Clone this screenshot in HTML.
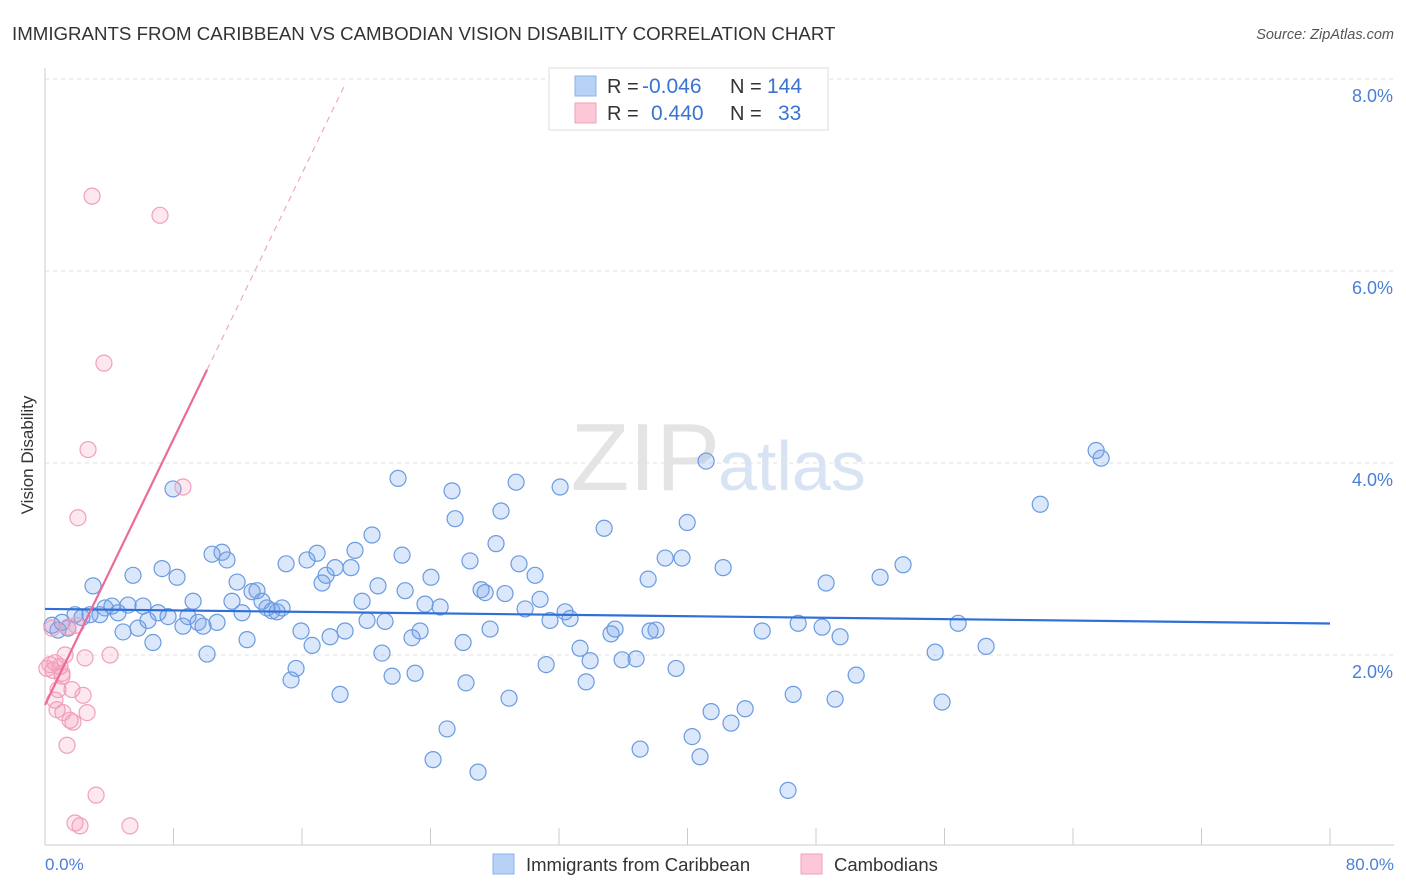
<!DOCTYPE html>
<html><head><meta charset="utf-8"><style>
body{margin:0;background:#fff;font-family:"Liberation Sans",sans-serif;}
#wrap{position:relative;width:1406px;height:892px;overflow:hidden;}
svg text{font-family:"Liberation Sans",sans-serif;}
</style></head><body>
<div id="wrap">
<svg id="chart" width="1406" height="892">
<text x="12" y="40" font-size="18.7" fill="#333">IMMIGRANTS FROM CARIBBEAN VS CAMBODIAN VISION DISABILITY CORRELATION CHART</text>
<text x="1394" y="39" font-size="14.5" fill="#555" font-style="italic" text-anchor="end">Source: ZipAtlas.com</text>
<text x="720" y="490" font-size="96" fill="#e4e4e4" text-anchor="end" font-family="Liberation Serif">ZIP</text>
<text x="718" y="490" font-size="70" fill="#d8e4f4">atlas</text>
<g id="grid"></g>
<g id="axes"></g>
<g id="pts"></g>
<g id="trends"></g>
<text x="33" y="455" font-size="17" fill="#333" text-anchor="middle" transform="rotate(-90 33 455)">Vision Disability</text>
<text x="45" y="870" font-size="17" fill="#4a7fd6">0.0%</text>
<text x="1394" y="870" font-size="17" fill="#4a7fd6" text-anchor="end">80.0%</text>
<g>
<rect x="549" y="68" width="279" height="62" fill="#fff" stroke="#ddd"/>
<rect x="575" y="76" width="21" height="20" fill="#b7d2f5" stroke="#8ab3ea"/>
<rect x="575" y="103" width="21" height="20" fill="#fcc8d8" stroke="#f0a0bb"/>
<text x="607" y="93" font-size="20" fill="#333">R = </text><text x="642" y="93" font-size="21" fill="#3b73d1">-0.046</text>
<text x="730" y="93" font-size="20" fill="#333">N = </text><text x="767" y="93" font-size="21" fill="#3b73d1">144</text>
<text x="607" y="120" font-size="20" fill="#333">R = </text><text x="651" y="120" font-size="21" fill="#3b73d1">0.440</text>
<text x="730" y="120" font-size="20" fill="#333">N = </text><text x="778" y="120" font-size="21" fill="#3b73d1">33</text>
</g>
<g>
<rect x="493" y="854" width="21" height="20" fill="#b7d2f5" stroke="#8ab3ea"/>
<text x="526" y="871" font-size="18.5" fill="#333">Immigrants from Caribbean</text>
<rect x="801" y="854" width="21" height="20" fill="#fcc8d8" stroke="#f0a0bb"/>
<text x="834" y="871" font-size="18.5" fill="#333">Cambodians</text>
</g>
</svg>
</div>
<script>
const blueX=[0.44,0.81,1.06,1.43,1.87,2.30,2.80,2.99,3.42,3.74,4.17,4.55,4.86,5.17,5.48,5.79,6.10,6.41,6.72,7.04,7.29,7.66,7.97,8.22,8.59,8.90,9.22,9.53,9.84,10.09,10.40,10.71,11.02,11.33,11.64,11.96,12.27,12.58,12.89,13.20,13.51,13.82,14.13,14.45,14.76,15.01,15.32,15.63,15.94,16.31,16.63,16.94,17.25,17.50,17.75,18.06,18.37,18.68,19.05,19.30,19.74,20.05,20.36,20.73,20.98,21.17,21.61,21.98,22.23,22.42,22.85,23.04,23.35,23.66,24.03,24.16,24.60,25.03,25.34,25.53,26.03,26.21,26.46,26.96,27.15,27.40,27.71,28.08,28.39,28.64,28.89,29.33,29.51,29.89,30.51,30.82,31.20,31.44,32.07,32.38,32.69,33.31,33.69,33.94,34.81,35.24,35.49,35.93,36.80,37.05,37.55,37.67,38.04,38.61,39.29,39.66,39.98,40.29,40.78,41.16,41.47,42.22,42.71,43.59,44.65,46.26,46.58,46.89,48.63,48.38,49.19,49.50,50.50,51.99,53.42,55.42,55.85,56.85,58.59,61.96,65.44,65.75];
const blueY=[2.31,2.26,2.34,2.28,2.42,2.39,2.42,2.72,2.42,2.49,2.51,2.44,2.24,2.52,2.83,2.28,2.51,2.36,2.13,2.44,2.90,2.40,3.73,2.81,2.30,2.40,2.56,2.34,2.30,2.01,3.05,2.34,3.07,2.99,2.56,2.76,2.44,2.16,2.66,2.67,2.56,2.49,2.46,2.45,2.49,2.95,1.74,1.86,2.25,2.99,2.10,3.06,2.75,2.83,2.19,2.91,1.59,2.25,2.91,3.09,2.56,2.36,3.25,2.72,2.02,2.35,1.78,3.84,3.04,2.67,2.18,1.81,2.25,2.53,2.81,0.91,2.50,1.23,3.71,3.42,2.13,1.71,2.98,0.78,2.68,2.65,2.27,3.16,3.50,2.64,1.55,3.80,2.95,2.48,2.83,2.58,1.90,2.36,3.75,2.45,2.38,2.07,1.72,1.94,3.32,2.22,2.27,1.95,1.96,1.02,2.79,2.25,2.26,3.01,1.86,3.01,3.38,1.15,0.94,4.02,1.41,2.91,1.29,1.44,2.25,0.59,1.59,2.33,2.75,2.29,1.54,2.19,1.79,2.81,2.94,2.03,1.51,2.33,2.09,3.57,4.13,4.05];
const pinkX=[0.31,0.50,0.62,0.75,0.93,1.06,1.12,1.25,1.37,1.43,1.56,1.68,1.74,1.87,1.93,2.05,2.18,2.37,2.49,2.62,2.68,2.93,3.18,3.67,4.05,5.29,7.16,8.59,0.44,0.81,1.06,0.62,0.12];
const pinkY=[1.90,1.84,1.92,1.43,1.88,1.78,1.40,2.00,1.06,2.29,1.32,1.64,1.30,0.25,2.31,3.43,0.22,1.58,1.97,1.40,4.14,6.78,0.54,5.04,2.00,0.22,6.58,3.75,2.28,1.64,1.81,1.53,1.86];
const yTicks=[2,4,6,8];
const yTickLabels=["2.0%","4.0%","6.0%","8.0%"];
const xTicks=[0,8,16,24,32,40,48,56,64,72,80];
const blueTrend=[2.48,-0.0019];
const pinkTrend=[1.48,0.346];
const pinkSolidEnd=10.09, pinkDashEnd=18.7;

const X0=45,X1=1330,Y0=847,PPY=96;
const sx=v=>X0+v/80*(X1-X0);
const sy=v=>Y0-v*PPY;
const NS='http://www.w3.org/2000/svg';
function mk(parent,tag,attrs){const e=document.createElementNS(NS,tag);for(const k in attrs)e.setAttribute(k,attrs[k]);parent.appendChild(e);return e;}
const grid=document.getElementById('grid'),axes=document.getElementById('axes');
yTicks.forEach((t,i)=>{
  const l=mk(grid,'line',{x1:X0,x2:1394,y1:sy(t),y2:sy(t),stroke:'#e2e2e2','stroke-dasharray':'4,4'});
  
  
  const tx=mk(grid,'text',{x:1393,y:sy(t)+23,'font-size':18,fill:'#4a7fd6','text-anchor':'end'});
  tx.textContent=yTickLabels[i];
  
  
});
const ya=mk(axes,'line',{x1:X0,x2:X0,y1:68,y2:845,stroke:'#ccc'});


const xa=mk(axes,'line',{x1:X0,x2:1394,y1:845,y2:845,stroke:'#ccc'});


xTicks.forEach(t=>{
  const l=mk(axes,'line',{x1:sx(t),x2:sx(t),y1:828,y2:845,stroke:'#ccc'});
  
  
});
const pts=document.getElementById('pts');
blueX.forEach((x,i)=>{
  const c=mk(pts,'circle',{cx:sx(x),cy:sy(blueY[i]),r:8,fill:'rgba(110,160,235,0.25)',stroke:'#6a9be0','stroke-width':1.2});
  
  
});
pinkX.forEach((x,i)=>{
  const c=mk(pts,'circle',{cx:sx(x),cy:sy(pinkY[i]),r:8,fill:'rgba(245,150,180,0.22)',stroke:'#f0a0bb','stroke-width':1.2});
  
  
});
const tr=document.getElementById('trends');
const bt=mk(tr,'line',{x1:sx(0),y1:sy(blueTrend[0]),x2:sx(80),y2:sy(blueTrend[0]+blueTrend[1]*80),stroke:'#2f6fd6','stroke-width':2.2});


const pt=mk(tr,'line',{x1:sx(0),y1:sy(pinkTrend[0]),x2:sx(pinkSolidEnd),y2:sy(pinkTrend[0]+pinkTrend[1]*pinkSolidEnd),stroke:'#ec6a98','stroke-width':2.2});


const pd=mk(tr,'line',{x1:sx(pinkSolidEnd),y1:sy(pinkTrend[0]+pinkTrend[1]*pinkSolidEnd),x2:sx(pinkDashEnd),y2:sy(pinkTrend[0]+pinkTrend[1]*pinkDashEnd),stroke:'#f0a8c0','stroke-width':1.2,'stroke-dasharray':'6,5'});


</script>
</body></html>
